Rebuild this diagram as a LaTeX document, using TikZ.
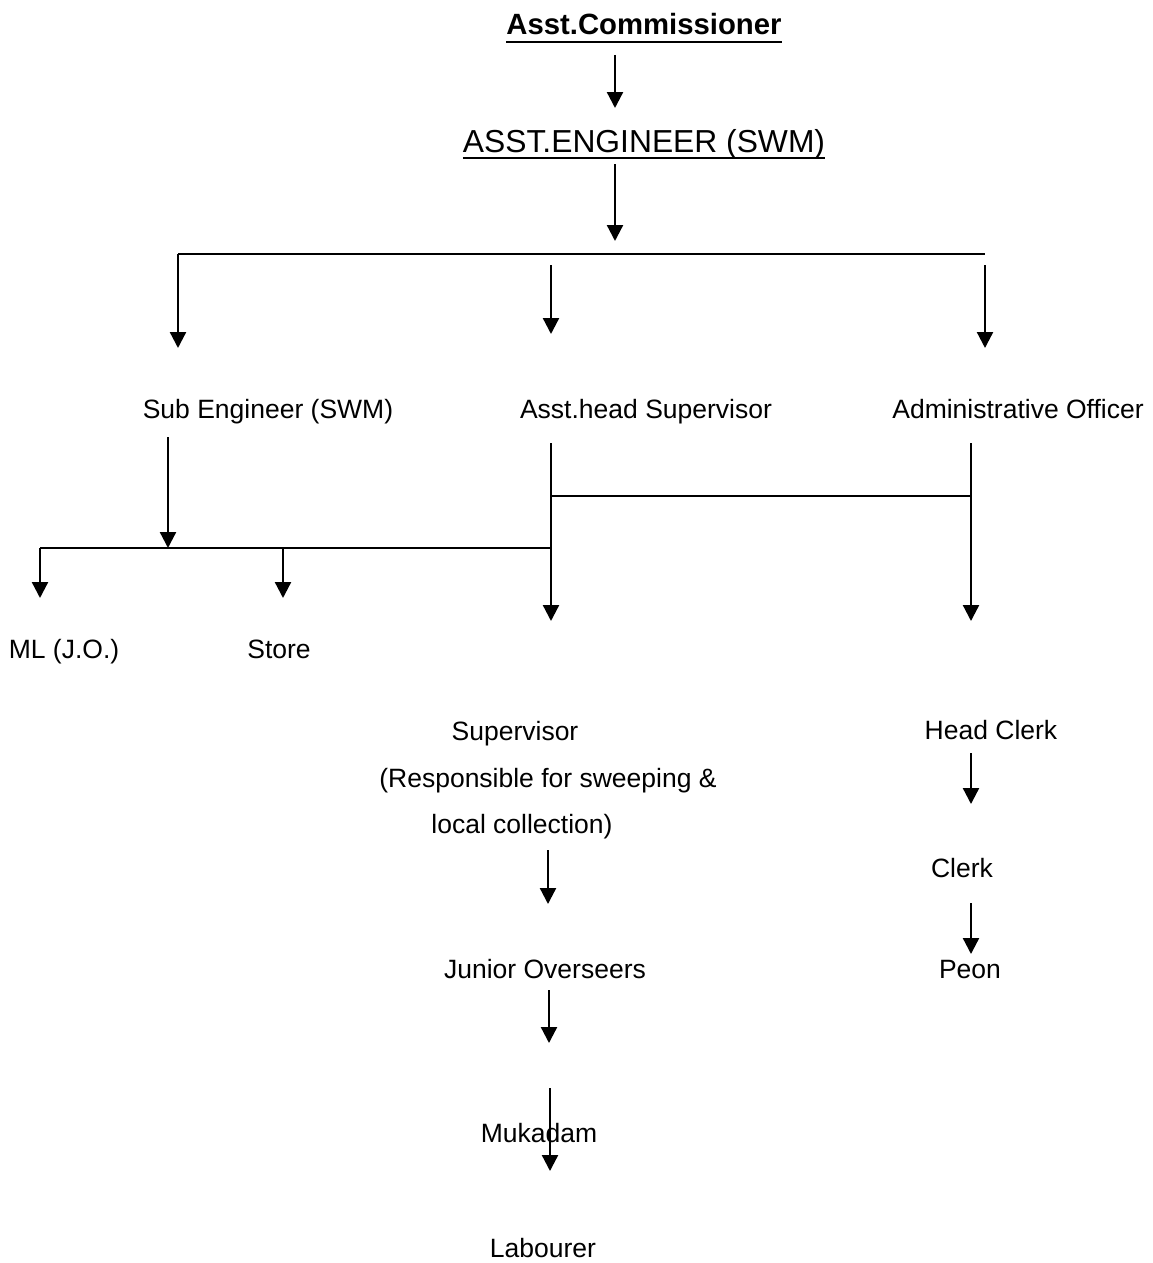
\documentclass[tikz,border=0pt]{standalone}
\usepackage{fontspec}
\setmainfont{Liberation Sans}
\usetikzlibrary{arrows.meta}
\begin{document}
\begin{tikzpicture}[x=1pt,y=-1pt,
  lbl/.style={inner sep=0pt, outer sep=0pt, anchor=base, font=\fontsize{26.5}{30}\selectfont},
  conn/.style={line width=2.3pt},
  arr/.style={conn, -{Triangle[width=16pt,length=16pt]}},
  uline/.style={line width=2.3pt}]
\useasboundingbox (0,0) rectangle (1152,1263);

% titles
\node[lbl, font=\fontsize{29.3}{32}\selectfont\bfseries] (ac) at (644,35) {Asst.Commissioner};
\draw[uline] ([yshift=-7pt]ac.base west) -- ([yshift=-7pt]ac.base east);
\node[lbl, font=\fontsize{31.8}{34}\selectfont] (ae) at (644,152) {ASST.ENGINEER (SWM)};
\draw[uline] ([yshift=-6pt]ae.base west) -- ([yshift=-6pt]ae.base east);

% level 2
\node[lbl] (se) at (268,418) {Sub Engineer (SWM)};
\node[lbl] (ahs) at (646,418) {Asst.head Supervisor};
\node[lbl] (ao) at (1018,418) {Administrative Officer};

% level 3
\node[lbl] (ml) at (64,658) {ML (J.O.)};
\node[lbl] (st) at (279,658) {Store};
\node[lbl] (sup1) at (515,740) {Supervisor};
\node[lbl] (sup2) at (548,787) {(Responsible for sweeping \&};
\node[lbl] (sup3) at (522,833) {local collection)};
\node[lbl] (jo) at (545,978) {Junior Overseers};
\node[lbl] (muk) at (539,1142) {Mukadam};
\node[lbl] (lab) at (543,1257) {Labourer};
\node[lbl] (hc) at (991,739) {Head Clerk};
\node[lbl] (cl) at (962,877) {Clerk};
\node[lbl] (pe) at (970,978) {Peon};

% coordinates
\coordinate (a1s) at (615,55);   \coordinate (a1e) at (615,108);
\coordinate (a2s) at (615,164);  \coordinate (a2e) at (615,241);
\coordinate (tl) at (178,254);   \coordinate (tr) at (985,254);
\coordinate (tle) at (178,348);
\coordinate (tms) at (551,265);  \coordinate (tme) at (551,334);
\coordinate (trs) at (985,265);  \coordinate (tre) at (985,348);
\coordinate (ses) at (168,437);  \coordinate (see) at (168,548);
\coordinate (bl) at (40,548);    \coordinate (br) at (551,548);
\coordinate (ble) at (40,598);
\coordinate (bs) at (283,548);   \coordinate (bse) at (283,598);
\coordinate (ahss) at (551,443); \coordinate (ahse) at (551,621);
\coordinate (hj) at (551,496);   \coordinate (hjr) at (971,496);
\coordinate (aos) at (971,443);  \coordinate (aoe) at (971,621);
\coordinate (s1s) at (548,850);  \coordinate (s1e) at (548,904);
\coordinate (s2s) at (549,990);  \coordinate (s2e) at (549,1043);
\coordinate (s3s) at (550,1088); \coordinate (s3e) at (550,1171);
\coordinate (c1s) at (971,753);  \coordinate (c1e) at (971,804);
\coordinate (c2s) at (971,903);  \coordinate (c2e) at (971,954);

% connectors
\draw[arr] (a1s) -- (a1e);
\draw[arr] (a2s) -- (a2e);
\draw[conn] (tl) -- (tr);
\draw[arr] (tl) -- (tle);
\draw[arr] (tms) -- (tme);
\draw[arr] (trs) -- (tre);
\draw[arr] (ses) -- (see);
\draw[conn] (bl) -- (br);
\draw[arr] (bl) -- (ble);
\draw[arr] (bs) -- (bse);
\draw[arr] (ahss) -- (ahse);
\draw[conn] (hj) -- (hjr);
\draw[arr] (aos) -- (aoe);
\draw[arr] (s1s) -- (s1e);
\draw[arr] (s2s) -- (s2e);
\draw[arr] (s3s) -- (s3e);
\draw[arr] (c1s) -- (c1e);
\draw[arr] (c2s) -- (c2e);
\end{tikzpicture}
\end{document}
